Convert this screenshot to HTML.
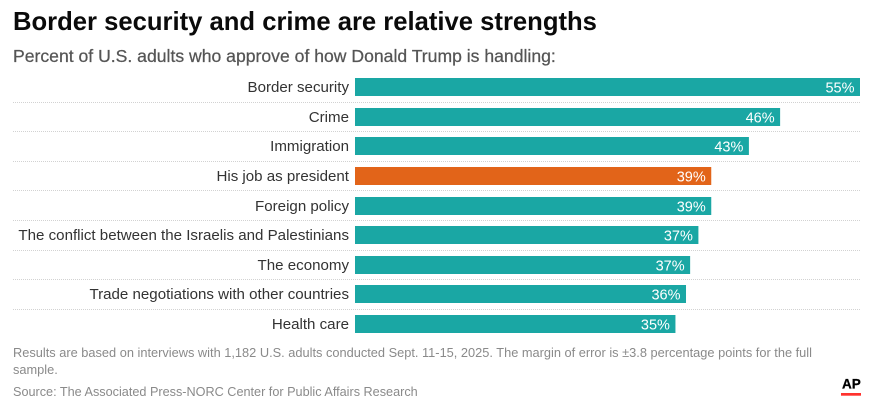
<!DOCTYPE html>
<html lang="en">
<head>
<meta charset="utf-8">
<title>Border security and crime are relative strengths</title>
<style>
html,body{margin:0;padding:0;background:#fff;}
body{width:875px;height:415px;overflow:hidden;font-family:"Liberation Sans",sans-serif;}
svg{display:block;}
text{font-family:"Liberation Sans",sans-serif;}
</style>
</head>
<body>
<svg id="chart" width="875" height="415" viewBox="0 0 875 415" xmlns="http://www.w3.org/2000/svg">
  <text x="13" y="30" font-size="25.63" font-weight="700" fill="#0a0a0a">Border security and crime are relative strengths</text>
  <text x="13" y="62" font-size="17.6" font-weight="400" fill="#555555" stroke="#555555" stroke-width="0.25">Percent of U.S. adults who approve of how Donald Trump is handling:</text>
  <g id="rows"></g>
  <text x="13" y="357" font-size="12.8" fill="#8a8a8a">Results are based on interviews with 1,182 U.S. adults conducted Sept. 11-15, 2025. The margin of error is ±3.8 percentage points for the full</text>
  <text x="13" y="374" font-size="12.8" fill="#8a8a8a">sample.</text>
  <text x="13" y="396" font-size="12.67" fill="#8a8a8a">Source: The Associated Press-NORC Center for Public Affairs Research</text>
  <g>
    <text x="842" y="388.5" font-size="13.5" font-weight="700" fill="#000000" stroke="#000000" stroke-width="0.3">AP</text>
    <rect x="841" y="393" width="20" height="2.7" fill="#ff322e"></rect>
  </g>
</svg>
<script>
const categories = ["Border security","Crime","Immigration","His job as president","Foreign policy","The conflict between the Israelis and Palestinians","The economy","Trade negotiations with other countries","Health care"];
const approvalValues = [55,46.3,42.9,38.8,38.8,37.4,36.5,36.05,34.9];
const printedValues = ["55%","46%","43%","39%","39%","37%","37%","36%","35%"];
const highlightedCategory = "His job as president";

const NS = "http://www.w3.org/2000/svg";
const rows = document.getElementById("rows");
const xStart = 355, xEnd = 860, xMax = 55;
const yTop = 78, rowStep = 29.625, barHeight = 18;
function xScale(v){ return (xEnd - xStart) * v / xMax; }
function yScale(i){ return Math.round(yTop + i * rowStep); }

categories.forEach(function(cat, i){
  const y = yScale(i);
  const w = xScale(approvalValues[i]);

  const label = document.createElementNS(NS, "text");
  
  
  label.setAttribute("x", 349);
  label.setAttribute("y", y + 14);
  label.setAttribute("text-anchor", "end");
  label.setAttribute("font-size", "15.1");
  label.setAttribute("fill", "#333333");
  label.textContent = cat;
  rows.appendChild(label);

  const bar = document.createElementNS(NS, "rect");
  
  
  bar.setAttribute("x", xStart);
  bar.setAttribute("y", y);
  bar.setAttribute("width", w);
  bar.setAttribute("height", barHeight);
  bar.setAttribute("fill", cat === highlightedCategory ? "#e26419" : "#1aa7a4");
  rows.appendChild(bar);

  const val = document.createElementNS(NS, "text");
  
  
  val.setAttribute("x", xStart + w - 5.5);
  val.setAttribute("y", y + 14.5);
  val.setAttribute("text-anchor", "end");
  val.setAttribute("font-size", "14.5");
  val.setAttribute("fill", "#ffffff");
  val.textContent = printedValues[i];
  rows.appendChild(val);

  if (i < categories.length - 1) {
    const ruleY = Math.floor(yTop + i * rowStep + barHeight + 6) + 0.5;
    const rule = document.createElementNS(NS, "line");
    
    
    rule.setAttribute("x1", 13);
    rule.setAttribute("x2", xEnd);
    rule.setAttribute("y1", ruleY);
    rule.setAttribute("y2", ruleY);
    rule.setAttribute("stroke", "#d2d2d2");
    rule.setAttribute("stroke-width", "1");
    rule.setAttribute("stroke-dasharray", "1 1");
    rows.appendChild(rule);
  }
});
</script>
</body>
</html>
